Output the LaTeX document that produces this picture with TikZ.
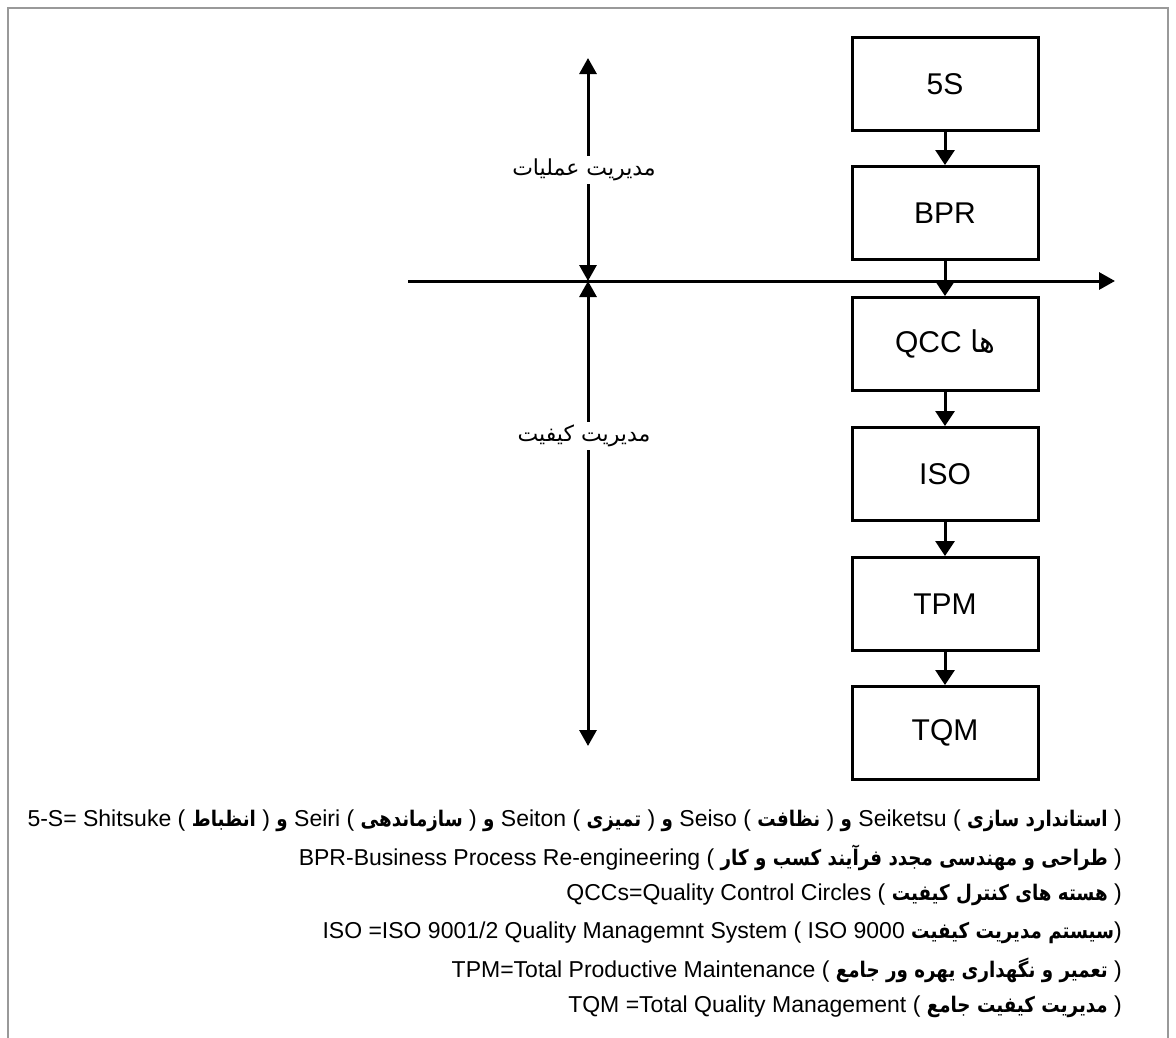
\documentclass[tikz,border=0pt]{standalone}
\usepackage{fontspec}
\setmainfont{Liberation Sans}
\newfontfamily\fa[Script=Arabic]{DejaVu Sans}
\newfontfamily\fan[Script=Arabic,FakeStretch=0.85]{DejaVu Sans}
\TeXXeTstate=1
\usetikzlibrary{arrows.meta}
% Persian run inside a left-to-right glossary line
\newcommand\fat[1]{{\fan\bfseries\fontsize{21.5}{25}\selectfont\beginR #1\endR}}
\tikzset{axtip/.tip={Triangle[length=16pt,width=17pt]}}
\begin{document}
\begin{tikzpicture}[x=1pt,y=-1pt,
  stagebox/.style={draw,line width=3pt,minimum width=186pt,minimum height=93pt,
    inner sep=0pt,font=\fontsize{30}{34}\selectfont},
  flow/.style={line width=3pt,-{Triangle[length=15pt,width=19pt]}},
  axis/.style={line width=3pt},
  axislabel/.style={fill=white,inner sep=3pt,font=\fa\fontsize{22}{26}\selectfont},
  note/.style={anchor=east,inner sep=0pt,font=\fontsize{23}{27}\selectfont}]
\useasboundingbox (0,0) rectangle (1176,1037);
% frame
\draw[line width=2pt,gray!80] (8,1040) -- (8,8) -- (1168,8) -- (1168,1040);

% axes
\coordinate (cross) at (588,281);
\coordinate (axtop) at (588,58);
\coordinate (axbot) at (588,746);
\coordinate (hleft) at (408,281);
\coordinate (hright) at (1115,281);
\draw[axis,axtip-axtip] (cross) -- (axtop);
\draw[axis,axtip-axtip] (cross) -- (axbot);
\draw[axis,-axtip] (hleft) -- (hright);
\node[axislabel] (ops) at (584,170) {\beginR مدیریت عملیات\endR};
\node[axislabel] (qual) at (584,436) {\beginR مدیریت کیفیت\endR};

% stages
\node[stagebox] (s5)  at (945,84)  {5S};
\node[stagebox] (bpr) at (945,213) {BPR};
\node[stagebox] (qcc) at (945,344) {QCC {\fa\beginR ها\endR}};
\node[stagebox] (iso) at (945,474) {ISO};
\node[stagebox] (tpm) at (945,604) {TPM};
\node[stagebox] (tqm) at (945,733) {TQM};
\draw[flow] (s5) -- (bpr);
\draw[flow] (bpr) -- (qcc);
\draw[flow] (qcc) -- (iso);
\draw[flow] (iso) -- (tpm);
\draw[flow] (tpm) -- (tqm);

% glossary
\node[note] (n1) at (1122,821) {5-S= Shitsuke ( \fat{انظباط} ) \fat{و} Seiri ( \fat{سازماندهی} ) \fat{و} Seiton ( \fat{تمیزی} ) \fat{و} Seiso ( \fat{نظافت} ) \fat{و} Seiketsu ( \fat{استاندارد سازی} )};
\node[note] (n2) at (1122,858) {BPR-Business Process Re-engineering ( \fat{طراحی و مهندسی مجدد فرآیند کسب و کار} )};
\node[note] (n3) at (1122,895) {QCCs=Quality Control Circles ( \fat{هسته های کنترل کیفیت} )};
\node[note] (n4) at (1122,933) {ISO =ISO 9001/2 Quality Managemnt System ( ISO 9000 \fat{سیستم مدیریت کیفیت})};
\node[note] (n5) at (1122,970) {TPM=Total Productive Maintenance ( \fat{تعمیر و نگهداری یهره ور جامع} )};
\node[note] (n6) at (1122,1007) {TQM =Total Quality Management ( \fat{مدیریت کیفیت جامع} )};
\end{tikzpicture}
\end{document}
